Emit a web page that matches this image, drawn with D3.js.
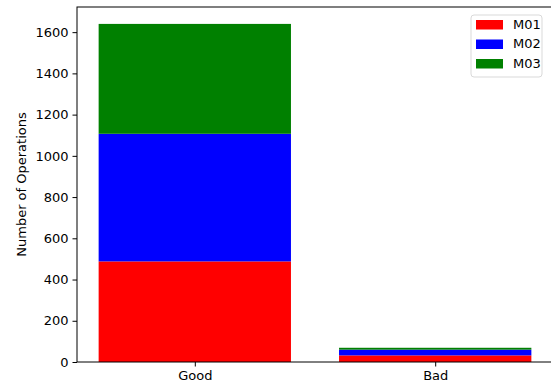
<!DOCTYPE html>
<html>
<head>
<meta charset="utf-8">
<script src="https://cdn.jsdelivr.net/npm/d3@7"></script>
<style>
  html, body { margin: 0; padding: 0; background: #fff; }
  text { font-family: "DejaVu Sans", sans-serif; }
</style>
</head>
<body>
<svg id="chart" width="551" height="388"></svg>
<script>
// Operations per outcome, split by machine
const categories = ["Good", "Bad"];
const machines = ["M01", "M02", "M03"];
const colors = ["#ff0000", "#0000ff", "#008000"];
const m01 = [488, 32];
const m02 = [619, 28];
const m03 = [533, 9];
const yTicks = [0, 200, 400, 600, 800, 1000, 1200, 1400, 1600];

const series = [m01, m02, m03];
const rows = categories.map((c, i) => {
  const r = { cat: c };
  machines.forEach((m, j) => { r[m] = series[j][i]; });
  return r;
});
const stacked = d3.stack().keys(machines)(rows);

const svg = d3.select("#chart");
const plotLeft = 77, plotRight = 553, plotTop = 7, plotBottom = 362;
const fs = 13;

const totalMax = d3.max(rows, r => d3.sum(machines, m => r[m]));
const y = d3.scaleLinear().domain([0, totalMax * 1.05]).range([plotBottom, plotTop]);
// categorical positions 0..n-1 with bar width 0.8, matplotlib-style margins
const xIdx = d3.scaleLinear().domain([-0.49, categories.length - 1 + 0.49]).range([plotLeft, plotRight]);
const barW = 0.8;

const g = svg.append("g");
stacked.forEach((layer, j) => {
  g.selectAll(null).data(layer).enter().append("rect")
    .attr("x", (d, i) => xIdx(i - barW / 2))
    .attr("width", xIdx(barW) - xIdx(0))
    .attr("y", d => y(d[1]))
    .attr("height", d => y(d[0]) - y(d[1]))
    .attr("fill", colors[j]);
});

// axes
const yAxis = d3.axisLeft(y).tickValues(yTicks).tickSize(4.5).tickPadding(4).tickFormat(d3.format("d"));
const ya = svg.append("g").attr("transform", `translate(${plotLeft},0)`).call(yAxis);
const xAxis = d3.axisBottom(xIdx).tickValues(categories.map((c, i) => i))
  .tickFormat(i => categories[i]).tickSize(4.5).tickPadding(4);
const xa = svg.append("g").attr("transform", `translate(0,${plotBottom})`).call(xAxis);
[ya, xa].forEach(a => {
  a.select(".domain").remove();
  a.selectAll("text").attr("font-size", fs).attr("font-family", "DejaVu Sans").attr("fill", "#000");
  a.selectAll("line").attr("stroke", "#000").attr("stroke-width", 1);
});

// frame
svg.append("rect").attr("x", plotLeft).attr("y", plotTop)
  .attr("width", plotRight - plotLeft).attr("height", plotBottom - plotTop)
  .attr("fill", "none").attr("stroke", "#000").attr("stroke-width", 1);

// y label
svg.append("text")
  .attr("transform", `translate(22,${(plotTop + plotBottom) / 2}) rotate(-90)`)
  .attr("text-anchor", "middle").attr("dominant-baseline", "middle")
  .attr("font-size", fs).text("Number of Operations");

// legend
const lg = svg.append("g").attr("transform", "translate(471,15)");
lg.append("rect").attr("width", 71).attr("height", 62).attr("rx", 3)
  .attr("fill", "#fff").attr("fill-opacity", 0.8).attr("stroke", "#d9d9d9");
machines.forEach((m, j) => {
  const row = lg.append("g").attr("transform", `translate(5,${5 + j * 19.5})`);
  row.append("rect").attr("width", 27).attr("height", 9.5).attr("fill", colors[j]);
  row.append("text").attr("x", 37).attr("y", 5).attr("dominant-baseline", "middle")
    .attr("font-size", fs).text(m);
});
</script>
</body>
</html>
